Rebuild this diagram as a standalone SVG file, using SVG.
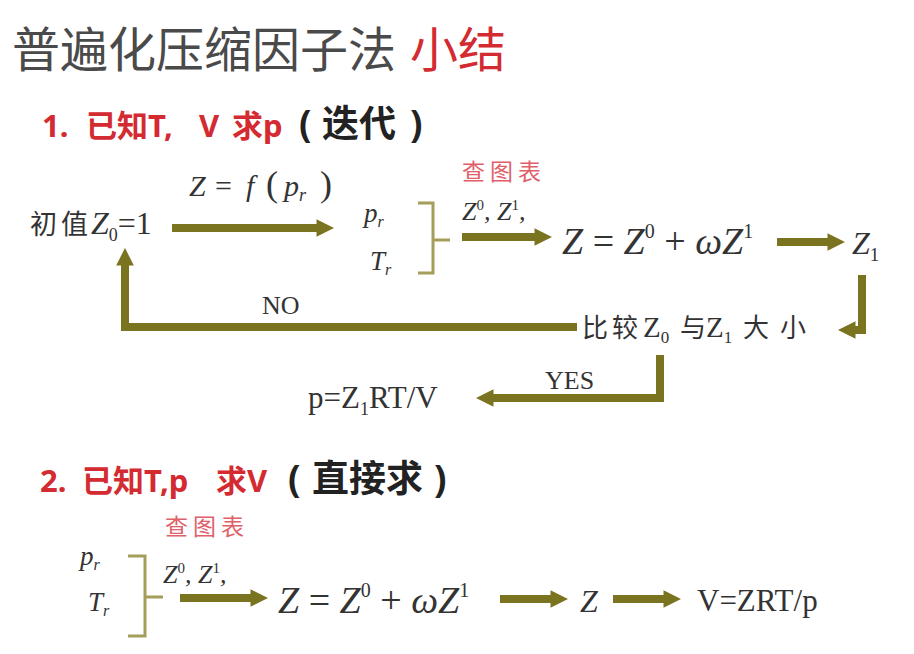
<svg xmlns="http://www.w3.org/2000/svg" width="914" height="654" viewBox="0 0 914 654">
<defs>
<style>
.ttl{font-family:"Noto Sans CJK SC","Noto Sans",sans-serif;font-size:48px;fill:#4a4a4a}
.red{fill:#d42a32}
.hd{font-family:"Noto Sans","Noto Sans CJK SC",sans-serif;font-size:31px;font-weight:bold}
.dk{fill:#222;font-size:37px}
.sf{font-family:"Liberation Serif","Noto Sans CJK SC",serif;fill:#333}
.cj{font-family:"Noto Sans CJK SC",serif;fill:#333}
.mi{font-family:"Liberation Serif",serif;font-style:italic;fill:#333}
.mr{font-family:"Liberation Serif",serif;font-style:normal;fill:#333}
.lab{font-family:"Noto Sans CJK SC",serif;font-size:23px;letter-spacing:5px;fill:#e0606a}
.arr{fill:none;stroke:#7a7420;stroke-width:8;stroke-linejoin:miter}
.br{fill:none;stroke:#a59e5a;stroke-width:3}
</style>
<marker id="ah" viewBox="0 0 10 10" refX="2" refY="5" markerWidth="2.2" markerHeight="2.6" orient="auto" markerUnits="strokeWidth">
<path d="M0,0 L10,5 L0,10 Z" fill="#7a7420"/>
</marker>
</defs>

<g id="title">
<text x="12" y="67" class="ttl">普遍化压缩因子法</text>
<text x="410" y="67" class="ttl red">小结</text>
</g>

<g id="heading1">
<text y="137" class="hd"><tspan class="red" x="42">1.</tspan><tspan class="red" x="86">已知T,</tspan><tspan class="red" x="199">V</tspan><tspan class="red" x="232">求p</tspan><tspan class="dk" font-size="32" x="299">(</tspan><tspan class="dk" x="322">迭代</tspan><tspan class="dk" font-size="32" x="410">)</tspan></text>
</g>

<g id="connectors">
<line class="arr" x1="172" y1="228" x2="320" y2="228" marker-end="url(#ah)"/>
<line class="arr" x1="462" y1="237" x2="538" y2="237" marker-end="url(#ah)"/>
<line class="arr" x1="777" y1="242" x2="831" y2="242" marker-end="url(#ah)"/>
<polyline class="arr" points="862,275 862,330 852,330" marker-end="url(#ah)"/>
<polyline class="arr" points="577,327 125,327 125,262" marker-end="url(#ah)"/>
<polyline class="arr" points="660,355 660,398 490,398" marker-end="url(#ah)"/>
<line class="arr" x1="180" y1="598" x2="254" y2="598" marker-end="url(#ah)"/>
<line class="arr" x1="500" y1="599" x2="554" y2="599" marker-end="url(#ah)"/>
<line class="arr" x1="613" y1="599" x2="667" y2="599" marker-end="url(#ah)"/>
</g>

<g id="init">
<text y="234" class="sf" font-size="32"><tspan class="cj" font-size="27" x="30">初</tspan><tspan class="cj" font-size="27" x="61">值</tspan><tspan font-style="italic" x="91">Z</tspan><tspan font-size="18" dy="7">0</tspan><tspan dy="-7">=1</tspan></text>
</g>
<g id="f-label">
<text y="196" class="mi" font-size="30"><tspan x="189">Z</tspan><tspan class="mr" x="215">=</tspan><tspan x="246">f</tspan><tspan class="mr" x="266" font-size="36">(</tspan><tspan x="284">p</tspan><tspan font-size="18" dy="5">r</tspan><tspan class="mr" font-size="36" dy="-5" x="320">)</tspan></text>
</g>
<g id="prtr1">
<text x="364" y="222" class="mi" font-size="27">p<tspan font-size="16" dy="5">r</tspan></text>
<text x="370" y="270" class="mi" font-size="27">T<tspan font-size="16" dy="5">r</tspan></text>
<path class="br" d="M418,203 H433 V273 H418 M433,240 H450"/>
</g>
<g id="chart1">
<text x="462" y="180" class="lab">查图表</text>
<text x="462" y="220" class="mi" font-size="26">Z<tspan class="mr" font-size="15" dy="-10">0</tspan><tspan dy="10">, Z</tspan><tspan class="mr" font-size="15" dy="-10">1</tspan><tspan dy="10">,</tspan></text>
</g>
<g id="eq1">
<text x="562" y="254" class="mi" font-size="38">Z <tspan class="mr">=</tspan> Z<tspan class="mr" font-size="20" dy="-16">0</tspan><tspan class="mr" dy="16"> + </tspan>ωZ<tspan class="mr" font-size="20" dy="-16">1</tspan></text>
</g>
<g id="z1">
<text x="852" y="254" class="mi" font-size="32">Z<tspan class="mr" font-size="19" dy="7">1</tspan></text>
</g>
<g id="compare">
<text y="337" class="sf" font-size="29"><tspan class="cj" font-size="26" x="582">比</tspan><tspan class="cj" font-size="26" x="612">较</tspan><tspan x="643">Z</tspan><tspan font-size="17" dy="6">0</tspan><tspan class="cj" font-size="26" dy="-6" x="680">与</tspan><tspan x="706">Z</tspan><tspan font-size="17" dy="6">1</tspan><tspan class="cj" font-size="26" dy="-6" x="743">大</tspan><tspan class="cj" font-size="26" x="780">小</tspan></text>
<text x="262" y="314" class="sf" font-size="26">NO</text>
<text x="545" y="389" class="sf" font-size="26">YES</text>
</g>
<g id="result1">
<text x="308" y="408" class="sf" font-size="31">p=Z<tspan font-size="18" dy="7">1</tspan><tspan dy="-7">RT/V</tspan></text>
</g>

<g id="heading2">
<text y="492" class="hd"><tspan class="red" x="40">2.</tspan><tspan class="red" x="82">已知T,p</tspan><tspan class="red" x="216">求V</tspan><tspan class="dk" font-size="32" x="288">(</tspan><tspan class="dk" x="312">直接求</tspan><tspan class="dk" font-size="32" x="434">)</tspan></text>
</g>
<g id="prtr2">
<text x="80" y="565" class="mi" font-size="27">p<tspan font-size="16" dy="5">r</tspan></text>
<text x="88" y="611" class="mi" font-size="27">T<tspan font-size="16" dy="5">r</tspan></text>
<path class="br" d="M128,556 H145 V636 H128 M145,597 H163"/>
</g>
<g id="chart2">
<text x="165" y="535" class="lab">查图表</text>
<text x="163" y="583" class="mi" font-size="26">Z<tspan class="mr" font-size="15" dy="-10">0</tspan><tspan dy="10">, Z</tspan><tspan class="mr" font-size="15" dy="-10">1</tspan><tspan dy="10">,</tspan></text>
</g>
<g id="eq2">
<text x="278" y="613" class="mi" font-size="38">Z <tspan class="mr">=</tspan> Z<tspan class="mr" font-size="20" dy="-16">0</tspan><tspan class="mr" dy="16"> + </tspan>ωZ<tspan class="mr" font-size="20" dy="-16">1</tspan></text>
</g>
<g id="z2">
<text x="580" y="612" class="mi" font-size="32">Z</text>
</g>
<g id="result2">
<text x="697" y="611" class="sf" font-size="31">V=ZRT/p</text>
</g>
</svg>
